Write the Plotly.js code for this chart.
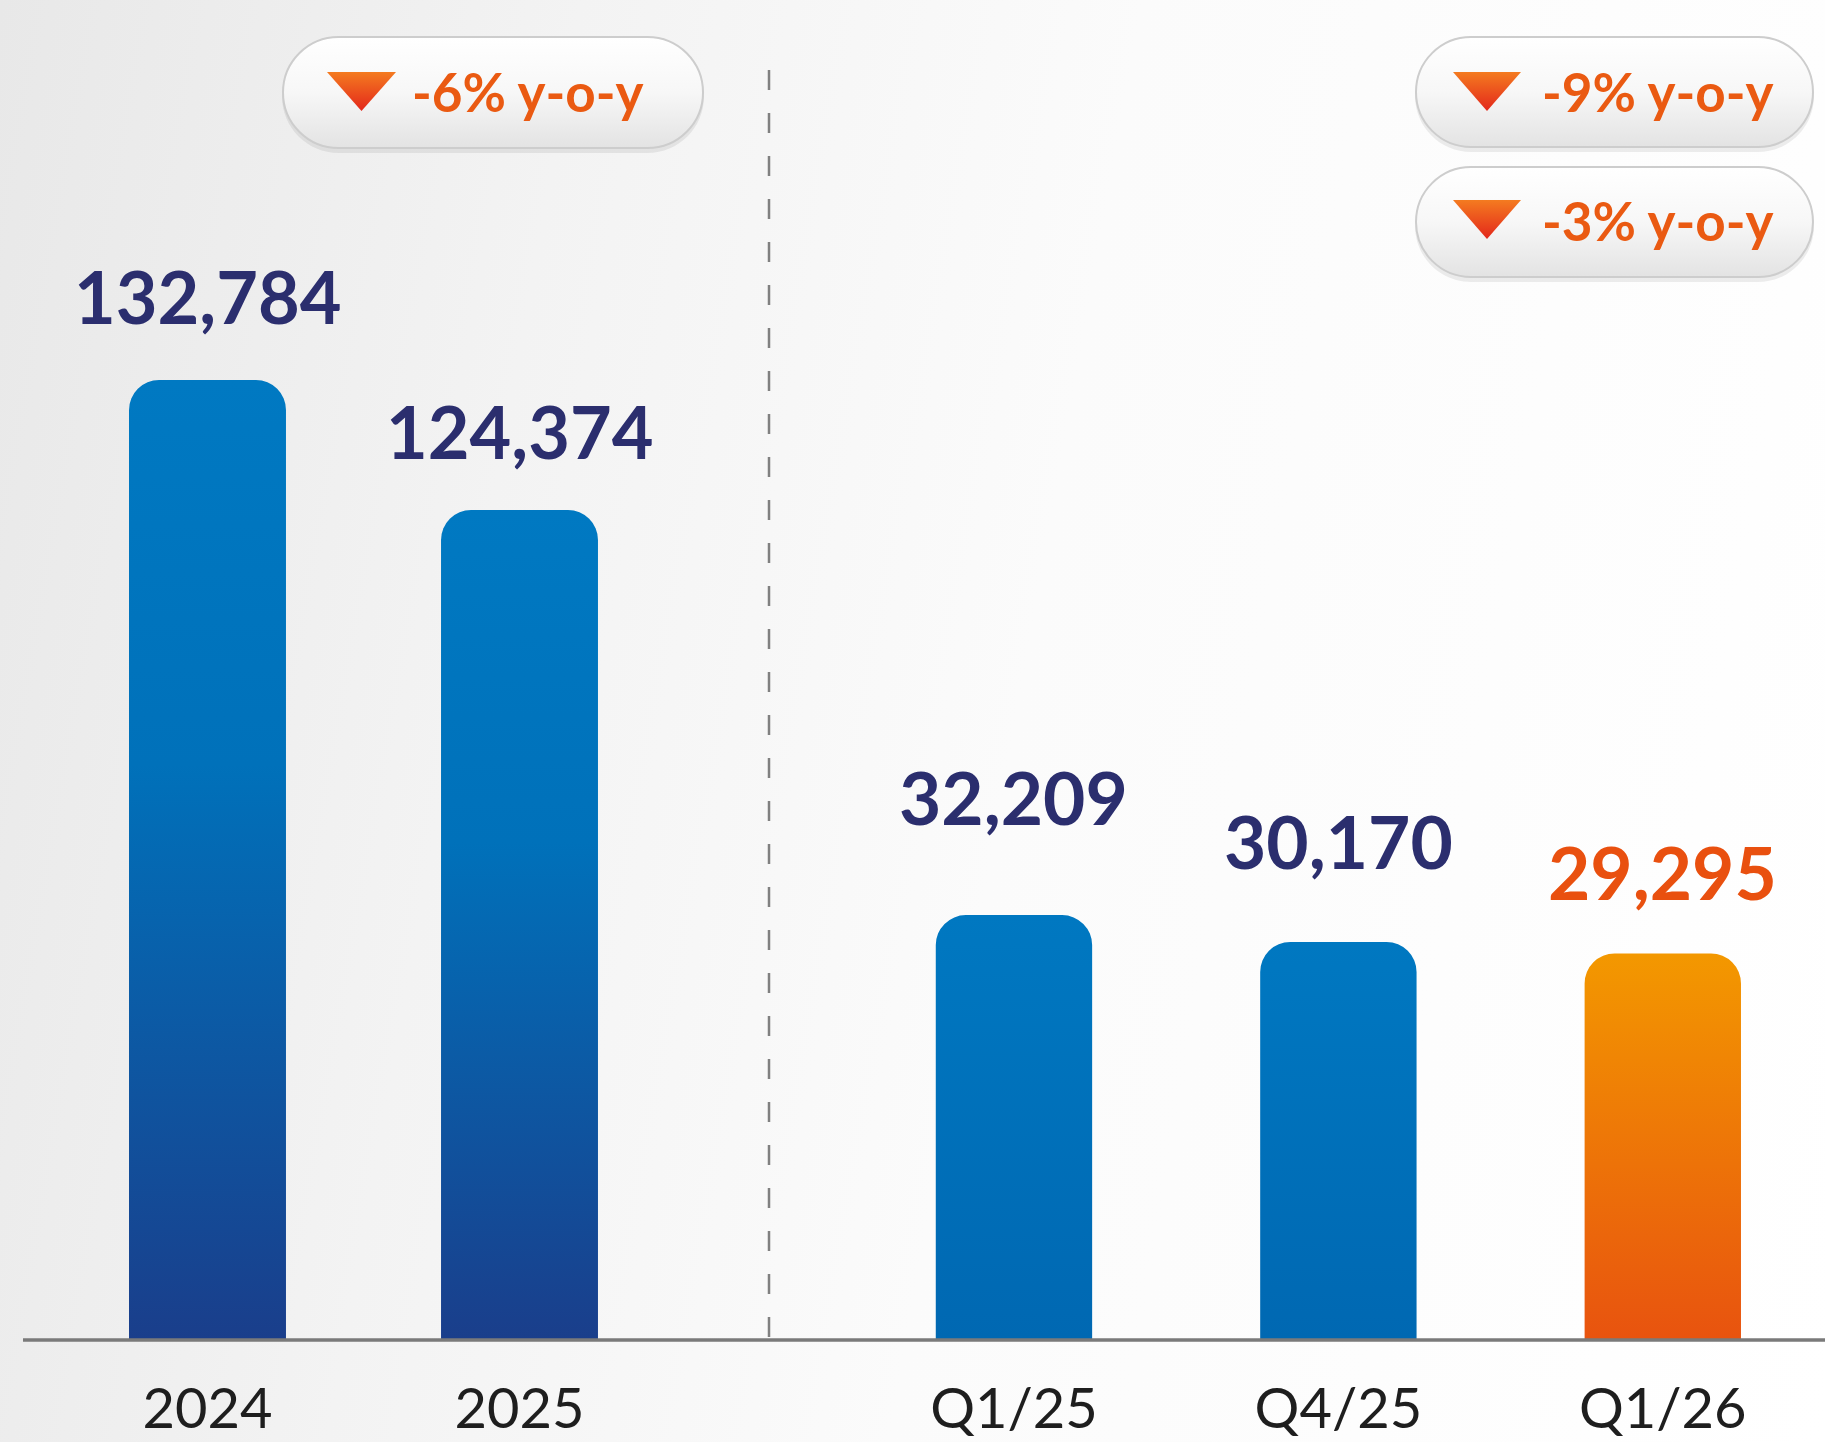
<!DOCTYPE html>
<html>
<head>
<meta charset="utf-8">
<script src="https://cdn.plot.ly/plotly-3.0.1.min.js"></script>
<style>
  html, body { margin: 0; padding: 0; overflow: hidden; }
  body { width: 1825px; height: 1442px;
    background: linear-gradient(100deg, #e8e8e8 0%, #f3f3f3 28%, #fbfbfb 55%, #ffffff 100%); }
  #chart { width: 1825px; height: 1442px; }
</style>
</head>
<body>
<div id="chart"></div>
<script>
// ---- data ----
const years = ['2024', '2025'];
const yearValues = [132784, 124374];
const quarters = ['Q1/25', 'Q4/25', 'Q1/26'];
const quarterValues = [32209, 30170, 29295];
const changeLabels = ['-6% y-o-y', '-9% y-o-y', '-3% y-o-y'];

// ---- styling / layout helpers ----
const W = 1825, H = 1442;
const px = x => x / W;
const py = y => 1 - y / H;
const BASE_Y = 1340;
const NAVY = '#2b2e6e', ORANGE = '#e9500f';

const yearLabelShift = [84, 79];
const quarterLabelShift = [118, 101, 82];
const quarterLabelColors = [NAVY, NAVY, ORANGE];

function pillPath(x0, y0, x1, y1) {
  const r = (y1 - y0) / 2, k = 0.5523 * r;
  const P = (x, y) => px(x).toFixed(5) + ',' + py(y).toFixed(5);
  return 'M' + P(x0 + r, y0) + ' L' + P(x1 - r, y0) +
    ' C' + P(x1 - r + k, y0) + ' ' + P(x1, y0 + r - k) + ' ' + P(x1, y0 + r) +
    ' C' + P(x1, y0 + r + k) + ' ' + P(x1 - r + k, y1) + ' ' + P(x1 - r, y1) +
    ' L' + P(x0 + r, y1) +
    ' C' + P(x0 + r - k, y1) + ' ' + P(x0, y0 + r + k) + ' ' + P(x0, y0 + r) +
    ' C' + P(x0, y0 + r - k) + ' ' + P(x0 + r - k, y0) + ' ' + P(x0 + r, y0) + ' Z';
}
function triPath(x0, y0, x1, y1) {
  const P = (x, y) => px(x).toFixed(5) + ',' + py(y).toFixed(5);
  return 'M' + P(x0, y0) + ' L' + P(x1, y0) + ' L' + P((x0 + x1) / 2, y1) + ' Z';
}

const PILL_FILL = 'rgb(250, 250, 250)';
const TRI_FILL = 'rgb(238, 80, 30)';
const pills = [
  { box: [283, 37, 703, 148], tri: [327, 72, 396, 111], tx: 410, ty: 92 },
  { box: [1416, 37, 1813, 147], tri: [1453, 72, 1521, 111], tx: 1540, ty: 92 },
  { box: [1416, 167, 1813, 277], tri: [1453, 200, 1521, 239], tx: 1540, ty: 221 }
];

const shapes = [];
const annotations = [];
pills.forEach((p, i) => {
  const [x0, y0, x1, y1] = p.box;
  shapes.push({ type: 'path', xref: 'paper', yref: 'paper', path: pillPath(x0 - 1, y0 + 3, x1 + 1, y1 + 5),
    fillcolor: 'rgba(0,0,0,0.07)', line: { width: 0 } });
  shapes.push({ type: 'path', xref: 'paper', yref: 'paper', path: pillPath(x0, y0, x1, y1),
    fillcolor: PILL_FILL, line: { color: '#cdcdcd', width: 2 } });
  const [tx0, ty0, tx1, ty1] = p.tri;
  shapes.push({ type: 'path', xref: 'paper', yref: 'paper', path: triPath(tx0, ty0, tx1, ty1),
    fillcolor: TRI_FILL, line: { width: 0 } });
  annotations.push({ xref: 'paper', yref: 'paper', x: px(p.tx), y: py(p.ty), xanchor: 'left', yanchor: 'middle',
    text: '<b>' + changeLabels[i] + '</b>', showarrow: false,
    font: { family: 'Lato, sans-serif', size: 53, color: '#ea5a12' } });
});

// axis baseline and dashed divider
shapes.push({ type: 'line', xref: 'paper', yref: 'paper', x0: px(23), x1: 1, y0: py(BASE_Y), y1: py(BASE_Y),
  line: { color: '#7a7a7a', width: 3.5 } });
shapes.push({ type: 'line', xref: 'paper', yref: 'paper', x0: px(769), x1: px(769), y0: py(70), y1: py(BASE_Y),
  line: { color: '#808080', width: 2.5, dash: '20px,23px' } });

// value labels (x given as category index)
const fmt = v => v.toLocaleString('en-US');
years.forEach((c, i) => annotations.push({ xref: 'x', yref: 'y', x: i, y: yearValues[i],
  text: '<b>' + fmt(yearValues[i]) + '</b>', showarrow: false, yanchor: 'middle', yshift: yearLabelShift[i],
  font: { family: 'Lato, sans-serif', size: 72, color: NAVY } }));
quarters.forEach((c, i) => annotations.push({ xref: 'x2', yref: 'y2', x: i, y: quarterValues[i],
  text: '<b>' + fmt(quarterValues[i]) + '</b>', showarrow: false, yanchor: 'middle', yshift: quarterLabelShift[i],
  font: { family: 'Lato, sans-serif', size: 73, color: quarterLabelColors[i] } }));

const LEFT_FILL = 'rgb(0, 112, 185)';
const RIGHT_FILL = 'rgb(0, 118, 191)';
const ORANGE_FILL = 'rgb(243, 146, 0)';

const traces = [
  { type: 'bar', x: years, y: yearValues, xaxis: 'x', yaxis: 'y', width: 0.503,
    marker: { color: LEFT_FILL, cornerradius: 30, line: { width: 0 } }, hoverinfo: 'skip' },
  { type: 'bar', x: quarters, y: quarterValues, xaxis: 'x2', yaxis: 'y2', width: 0.482,
    marker: { color: [RIGHT_FILL, RIGHT_FILL, ORANGE_FILL], cornerradius: 30, line: { width: 0 } }, hoverinfo: 'skip' }
];

const yDomain = [py(BASE_Y), 1];
const tickFont = { family: 'Lato, sans-serif', size: 56, color: '#1e1e1e' };
const layout = {
  width: W, height: H,
  margin: { l: 0, r: 0, t: 0, b: 0 },
  paper_bgcolor: 'rgba(0,0,0,0)', plot_bgcolor: 'rgba(0,0,0,0)',
  showlegend: false,
  font: { family: 'Lato, sans-serif' },
  xaxis: { domain: [px(51.5), px(675.5)], type: 'category', range: [-0.5, 1.5], showgrid: false, zeroline: false,
    showline: false, ticks: '', tickfont: tickFont, ticklabelstandoff: 31, fixedrange: true },
  xaxis2: { domain: [px(851.75), 1], type: 'category', range: [-0.5, 2.5], showgrid: false, zeroline: false,
    showline: false, ticks: '', tickfont: tickFont, ticklabelstandoff: 31, anchor: 'y2', fixedrange: true },
  yaxis: { domain: yDomain, range: [70679, 157367], visible: false, fixedrange: true },
  yaxis2: { domain: yDomain, range: [0, 101577], visible: false, anchor: 'x2', fixedrange: true },
  shapes: shapes,
  annotations: annotations
};

function addGradients(gd) {
  const svg = gd.querySelector('svg.main-svg');
  if (!svg) return;
  let defs = svg.querySelector('defs');
  const NS = 'http://www.w3.org/2000/svg';
  if (!defs) { defs = document.createElementNS(NS, 'defs'); svg.insertBefore(defs, svg.firstChild); }
  const grads = {
    gLeft: [[0, '#0079c2'], [0.4, '#0071ba'], [1, '#1a3e8b']],
    gRight: [[0, '#0078c1'], [1, '#0068b2']],
    gOrange: [[0, '#f39800'], [1, '#e8530f']],
    gPill: [[0, '#ffffff'], [0.5, '#f7f7f7'], [1, '#e3e3e3']],
    gTri: [[0, '#f47b20'], [1, '#e3271b']]
  };
  let n = 0;
  function makeGrad(id, bbox) {
    const g = document.createElementNS(NS, 'linearGradient');
    const gid = id + '_' + (n++);
    g.setAttribute('id', gid);
    if (bbox) {
      g.setAttribute('gradientUnits', 'userSpaceOnUse');
      g.setAttribute('x1', '0'); g.setAttribute('x2', '0');
      g.setAttribute('y1', bbox[0]); g.setAttribute('y2', bbox[1]);
    } else {
      g.setAttribute('x1', '0'); g.setAttribute('y1', '0'); g.setAttribute('x2', '0'); g.setAttribute('y2', '1');
    }
    grads[id].forEach(([o, c]) => {
      const s = document.createElementNS(NS, 'stop');
      s.setAttribute('offset', o); s.setAttribute('stop-color', c);
      g.appendChild(s);
    });
    defs.appendChild(g);
    return gid;
  }
  const barMap = {}, shapeMap = {};
  barMap[LEFT_FILL] = 'gLeft'; barMap[RIGHT_FILL] = 'gRight'; barMap[ORANGE_FILL] = 'gOrange';
  shapeMap[PILL_FILL] = 'gPill'; shapeMap[TRI_FILL] = 'gTri';
  const plotBottom = gd._fullLayout.yaxis._length;
  gd.querySelectorAll('.barlayer path').forEach(p => {
    const f = p.style.fill;
    if (barMap[f]) {
      const b = p.getBBox();
      const y1 = b.y, y2 = Math.min(b.y + b.height, plotBottom);
      p.style.fill = 'url(#' + makeGrad(barMap[f], [y1, y2]) + ')';
    }
  });
  gd.querySelectorAll('.shapelayer path').forEach(p => {
    const f = p.style.fill;
    if (shapeMap[f]) p.style.fill = 'url(#' + makeGrad(shapeMap[f]) + ')';
  });
}

Plotly.newPlot('chart', traces, layout, { staticPlot: true, displayModeBar: false })
  .then(gd => addGradients(gd));
</script>
</body>
</html>
